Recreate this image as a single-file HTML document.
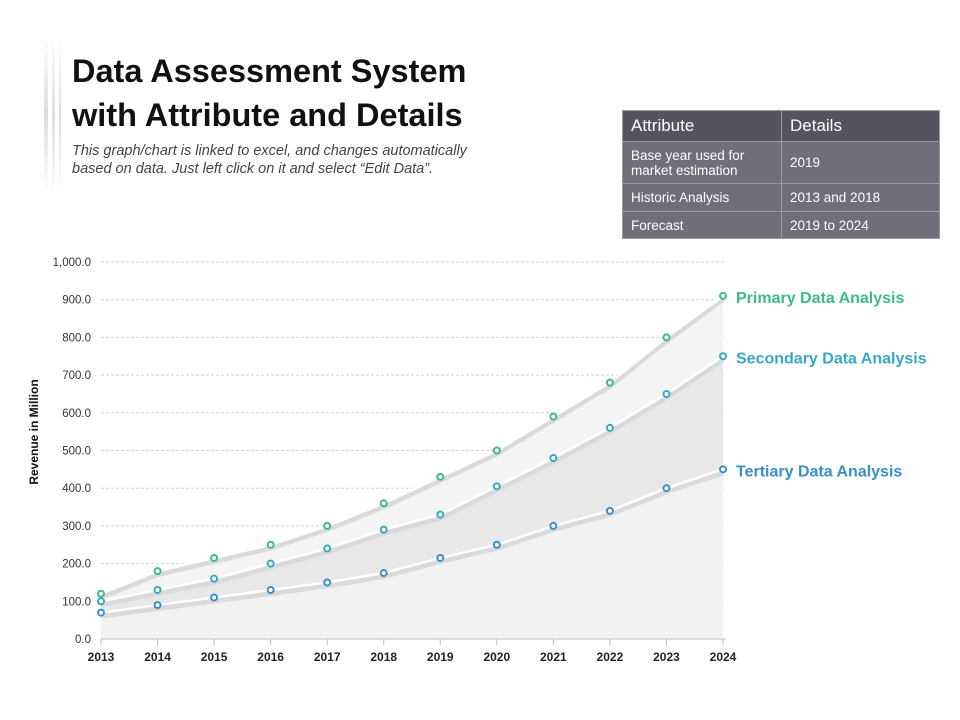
<!DOCTYPE html>
<html><head><meta charset="utf-8">
<style>
body{margin:0;width:960px;height:720px;background:#fff;font-family:"Liberation Sans",sans-serif;position:relative;overflow:hidden}
.title{position:absolute;left:72px;top:49px;font-size:32.5px;font-weight:bold;color:#111;line-height:44px}
.sub{position:absolute;left:72px;top:142px;font-size:14.5px;font-style:italic;color:#444;line-height:18px}
.bar{position:absolute;top:35px;height:160px;background:linear-gradient(#fff,#ddd,#fff)}
table{position:absolute;left:622px;top:110px;width:318px;border-collapse:collapse;font-size:13.5px;color:#fff}
td{border:1px solid #9a9aa3;padding:3px 8px;background:#6f6f7a}
th{background:#54545e;text-align:left;font-size:17px;font-weight:normal;padding:5px 8px;border:1px solid #9a9aa3}
</style></head><body>
<div class="bar" style="left:44px;width:4px"></div>
<div class="bar" style="left:52px;width:3px"></div>
<div class="bar" style="left:59px;width:2px"></div>
<div class="title">Data Assessment System<br>with Attribute and Details</div>
<div class="sub">This graph/chart is linked to excel, and changes automatically<br>based on data.  Just left click on it and select “Edit Data”.</div>
<table>
<tr><th style="width:142px">Attribute</th><th>Details</th></tr>
<tr><td style="height:35px">Base year used for market estimation</td><td>2019</td></tr>
<tr><td style="height:21px">Historic Analysis</td><td>2013 and 2018</td></tr>
<tr><td style="height:20px">Forecast</td><td>2019 to 2024</td></tr>
</table>
<svg id="chart" width="960" height="720" style="position:absolute;left:0;top:0"></svg>
<script>
const years=["2013","2014","2015","2016","2017","2018","2019","2020","2021","2022","2023","2024"];
const primary=[120,180,215,250,300,360,430,500,590,680,800,910];
const secondary=[100,130,160,200,240,290,330,405,480,560,650,750];
const tertiary=[70,90,110,130,150,175,215,250,300,340,400,450];
const yTicks=[0,100,200,300,400,500,600,700,800,900,1000];
const svg=document.getElementById('chart');const NS='http://www.w3.org/2000/svg';
const x=i=>101+i*(723-101)/11, y=v=>639-v*0.377;
function el(t,a,p){const e=document.createElementNS(NS,t);for(const k in a)e.setAttribute(k,a[k]);(p||svg).appendChild(e);return e;}
yTicks.forEach(v=>{const g=el('line',{x1:101,x2:726,y1:y(v),y2:y(v),stroke:'#d4d4d4','stroke-dasharray':'3,2'});


const t=el('text',{x:91,y:y(v)+4,'text-anchor':'end','font-size':11.5,fill:'#333'});t.textContent=v.toLocaleString('en-US',{minimumFractionDigits:1});

});
function pts(a){return a.map((v,i)=>x(i)+','+y(v)).join(' ');}
const series=[[primary,'#f4f4f4','#3dba8c','Primary Data Analysis'],[secondary,'#e8e8e8','#3aa8c2','Secondary Data Analysis'],[tertiary,'#f2f2f2','#3a8fc4','Tertiary Data Analysis']];
series.forEach(([d,f])=>{const p=el('polygon',{points:pts(d)+' '+x(11)+','+y(0)+' '+x(0)+','+y(0),fill:f});

});
series.forEach(([d])=>{el('polyline',{points:d.map((v,i)=>x(i)+','+(y(v)+3)).join(' '),fill:'none',stroke:'#dadada','stroke-width':6});
const l=el('polyline',{points:pts(d),fill:'none',stroke:'#fff','stroke-width':2.5});

});
series.forEach(([d,f,c,name])=>{d.forEach((v,i)=>{const m=el('circle',{cx:x(i),cy:y(v),r:3,fill:'#fff',stroke:c,'stroke-width':2});

});
const t=el('text',{x:736,y:y(d[11])+7,'font-size':16,'font-weight':'bold',fill:c});t.textContent=name;

});
el('line',{x1:101,x2:726,y1:639,y2:639,stroke:'#bbb'});
years.forEach((s,i)=>{el('line',{x1:x(i),x2:x(i),y1:639,y2:645,stroke:'#bbb'});
const t=el('text',{x:x(i),y:661,'text-anchor':'middle','font-size':12,'font-weight':'bold',fill:'#222'});t.textContent=s;

});
const yt=el('text',{x:38,y:432,'text-anchor':'middle','font-size':12,'font-weight':'bold',fill:'#111',transform:'rotate(-90 38 432)'});yt.textContent='Revenue in Million';


</script>
</body></html>
